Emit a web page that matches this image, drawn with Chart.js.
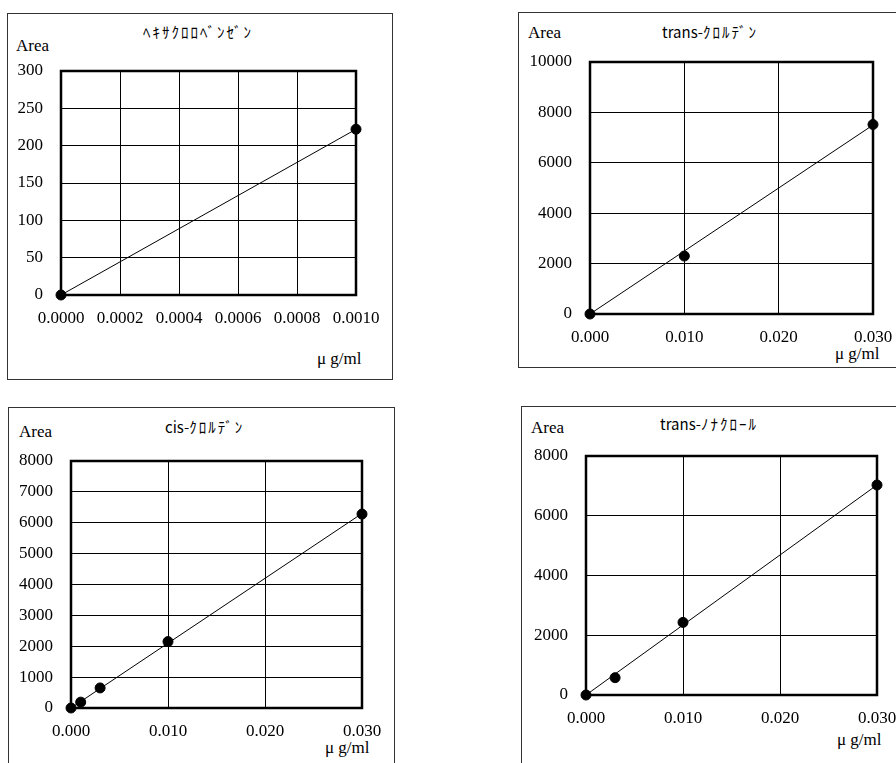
<!DOCTYPE html>
<html>
<head>
<meta charset="utf-8">
<script src="https://cdn.jsdelivr.net/npm/chart.js@4"></script>
<style>
  body { margin:0; width:896px; height:763px; background:#fff; position:relative; overflow:hidden; }
  .box { position:absolute; border:1px solid #333; }
  .t { position:absolute; color:#000; white-space:nowrap; line-height:18px; }
  .serif { font-family:"Liberation Serif", serif; font-size:17px; }
  .kana { font-family:"Noto Sans CJK JP", sans-serif; font-size:15px; }
  .kana span { letter-spacing:2px; }
  canvas { position:absolute; }
</style>
</head>
<body>
<div class="box" style="left:7px;top:13px;width:384px;height:365px"></div>
<div class="box" style="left:518px;top:12px;width:420px;height:354px"></div>
<div class="box" style="left:8px;top:407px;width:385px;height:400px"></div>
<div class="box" style="left:521px;top:406px;width:420px;height:400px"></div>

<div class="t kana" style="left:143px;top:23px"><span>ﾍｷｻｸﾛﾛﾍﾞﾝｾﾞﾝ</span></div>
<div class="t kana" style="left:662px;top:23px">trans-<span>ｸﾛﾙﾃﾞﾝ</span></div>
<div class="t kana" style="left:165px;top:418px">cis-<span>ｸﾛﾙﾃﾞﾝ</span></div>
<div class="t kana" style="left:660px;top:415px">trans-<span>ﾉﾅｸﾛｰﾙ</span></div>

<div class="t serif" style="left:16px;top:37px">Area</div>
<div class="t serif" style="left:528px;top:24px">Area</div>
<div class="t serif" style="left:19px;top:423px">Area</div>
<div class="t serif" style="left:531px;top:419px">Area</div>

<div class="t serif" style="left:317px;top:350px">μ g/ml</div>
<div class="t serif" style="left:835px;top:345px">μ g/ml</div>
<div class="t serif" style="left:325px;top:739px">μ g/ml</div>
<div class="t serif" style="left:837px;top:731px">μ g/ml</div>

<canvas id="c1"></canvas>
<canvas id="c2"></canvas>
<canvas id="c3"></canvas>
<canvas id="c4"></canvas>

<script>
// ヘキサクロロベンゼン
const x1 = [0, 0.001];
const y1 = [0, 222];
const fitX1 = [0, 0.001];
const fitY1 = [0, 222];
const xTicks1 = [0, 0.0002, 0.0004, 0.0006, 0.0008, 0.001];
const xLabels1 = ["0.0000", "0.0002", "0.0004", "0.0006", "0.0008", "0.0010"];
const yTicks1 = [0, 50, 100, 150, 200, 250, 300];

// trans-クロルデン
const x2 = [0, 0.010, 0.030];
const y2 = [0, 2300, 7520];
const fitX2 = [0, 0.030];
const fitY2 = [0, 7500];
const xTicks2 = [0, 0.010, 0.020, 0.030];
const xLabels2 = ["0.000", "0.010", "0.020", "0.030"];
const yTicks2 = [0, 2000, 4000, 6000, 8000, 10000];

// cis-クロルデン
const x3 = [0, 0.001, 0.003, 0.010, 0.030];
const y3 = [0, 190, 650, 2150, 6280];
const fitX3 = [0, 0.030];
const fitY3 = [0, 6300];
const xTicks3 = [0, 0.010, 0.020, 0.030];
const xLabels3 = ["0.000", "0.010", "0.020", "0.030"];
const yTicks3 = [0, 1000, 2000, 3000, 4000, 5000, 6000, 7000, 8000];

// trans-ノナクロール
const x4 = [0, 0.003, 0.010, 0.030];
const y4 = [0, 580, 2430, 7030];
const fitX4 = [0, 0.030];
const fitY4 = [0, 7030];
const xTicks4 = [0, 0.010, 0.020, 0.030];
const xLabels4 = ["0.000", "0.010", "0.020", "0.030"];
const yTicks4 = [0, 2000, 4000, 6000, 8000];

// thick box round the plot area
const frame = {
  id: "frame",
  beforeDatasetsDraw(chart) {
    const a = chart.chartArea, ctx = chart.ctx;
    ctx.save();
    ctx.strokeStyle = "#000";
    ctx.lineWidth = 2.5;
    ctx.strokeRect(a.left, a.top, a.right - a.left, a.bottom - a.top);
    ctx.restore();
  }
};

const tickFont = { family: "Liberation Serif", size: 17 };

function panel(id, plot, xs, ys, fx, fy, xTicks, xLabels, yTicks) {
  const padL = 75, padT = 14, padR = 30, padB = 40;
  const c = document.getElementById(id);
  c.width = plot[2] - plot[0] + padL + padR;
  c.height = plot[3] - plot[1] + padT + padB;
  c.style.left = (plot[0] - padL) + "px";
  c.style.top = (plot[1] - padT) + "px";

  new Chart(c, {
    type: "scatter",
    data: {
      datasets: [{
        data: fx.map((x, i) => ({ x: x, y: fy[i] })),
        showLine: true,
        borderColor: "#000",
        borderWidth: 1,
        pointRadius: 0
      }, {
        data: xs.map((x, i) => ({ x: x, y: ys[i] })),
        pointRadius: 5,
        backgroundColor: "#000",
        borderColor: "#000",
        clip: false
      }]
    },
    options: {
      responsive: false,
      animation: false,
      layout: { padding: { top: padT, right: padR, left: 0, bottom: 0 } },
      plugins: { legend: { display: false }, tooltip: { enabled: false } },
      scales: {
        x: {
          type: "linear",
          min: xTicks[0],
          max: xTicks[xTicks.length - 1],
          afterBuildTicks: s => { s.ticks = xTicks.map(v => ({ value: v })); },
          afterFit: s => { s.height = padB; s.paddingLeft = 0; s.paddingRight = 0; },
          ticks: { callback: (v, i) => xLabels[i], font: tickFont, color: "#000", padding: 13, maxRotation: 0, autoSkip: false },
          grid: { color: "#000", lineWidth: 1, drawTicks: false },
          border: { display: false }
        },
        y: {
          min: yTicks[0],
          max: yTicks[yTicks.length - 1],
          afterBuildTicks: s => { s.ticks = yTicks.map(v => ({ value: v })); },
          afterFit: s => { s.width = padL; s.paddingTop = 0; s.paddingBottom = 0; },
          ticks: { callback: v => String(v), font: tickFont, color: "#000", padding: 18, autoSkip: false },
          grid: { color: "#000", lineWidth: 1, drawTicks: false },
          border: { display: false }
        }
      }
    },
    plugins: [frame]
  });
}

panel("c1", [61, 71, 356, 295], x1, y1, fitX1, fitY1, xTicks1, xLabels1, yTicks1);
panel("c2", [590, 62, 873, 314], x2, y2, fitX2, fitY2, xTicks2, xLabels2, yTicks2);
panel("c3", [71, 461, 362, 708], x3, y3, fitX3, fitY3, xTicks3, xLabels3, yTicks3);
panel("c4", [586, 456, 877, 695], x4, y4, fitX4, fitY4, xTicks4, xLabels4, yTicks4);
</script>
</body>
</html>
